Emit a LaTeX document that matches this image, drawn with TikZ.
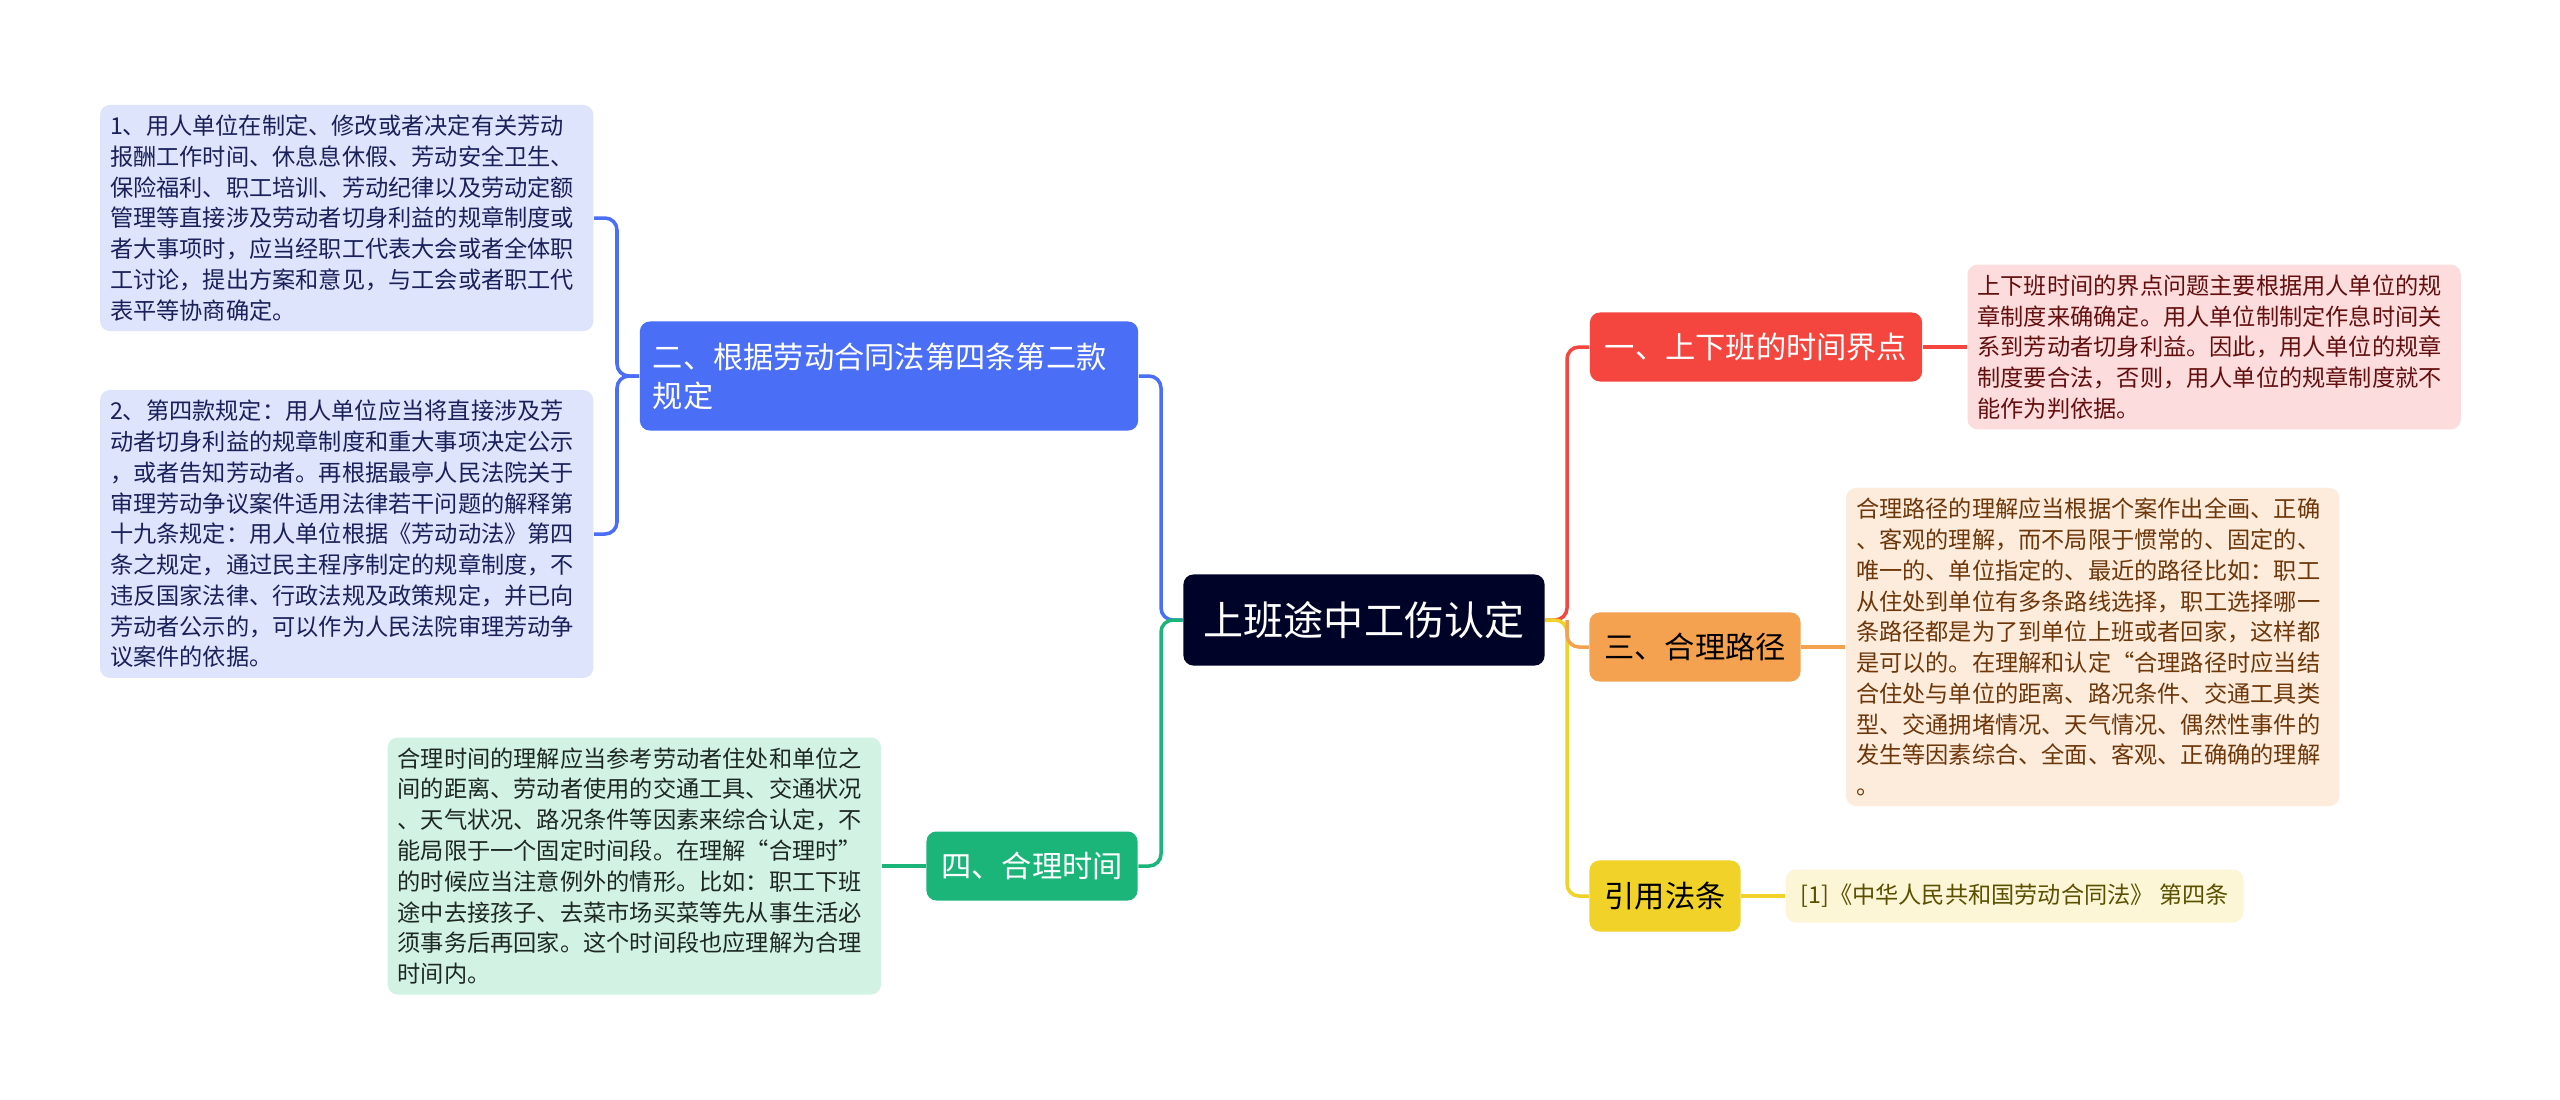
\documentclass[tikz,border=0pt]{standalone}
\usepackage{fontspec}
\setmainfont{Noto Sans CJK SC}
\usetikzlibrary{positioning}
\definecolor{rootbg}{RGB}{0,3,40}
\definecolor{bluebr}{RGB}{74,110,245}
\definecolor{blueleaf}{RGB}{222,228,252}
\definecolor{bluetxt}{RGB}{25,32,90}
\definecolor{redbr}{RGB}{244,70,62}
\definecolor{redleaf}{RGB}{252,220,220}
\definecolor{redtxt}{RGB}{100,15,15}
\definecolor{orangebr}{RGB}{245,162,80}
\definecolor{orangeleaf}{RGB}{253,236,220}
\definecolor{orangetxt}{RGB}{110,55,10}
\definecolor{yellowbr}{RGB}{240,210,40}
\definecolor{yellowleaf}{RGB}{252,246,215}
\definecolor{yellowtxt}{RGB}{90,80,0}
\definecolor{greenbr}{RGB}{27,181,122}
\definecolor{greenleaf}{RGB}{210,243,228}
\definecolor{greentxt}{RGB}{30,40,35}

\begin{document}
\begin{tikzpicture}[x=0.01cm,y=-0.01cm,node distance=0.44cm,
  every node/.style={font=\fontsize{6.6pt}{8.75pt}\selectfont,rounded corners=0.1cm,inner sep=0.1cm},
  topic/.style={font=\fontsize{8.6pt}{11.1pt}\selectfont,minimum height=0.69cm,inner sep=0.13cm},
  leaf/.style={text width=4.73cm,align=left},
  link/.style={line width=1pt,rounded corners=0.12cm}]
\fill[white] (0,0) rectangle (2560,1099);
\node[fill=rootbg,text=white,font=\fontsize{11.4pt}{14pt}\selectfont,minimum width=3.61cm,minimum height=0.91cm] (root) at (1364,620) {上班途中工伤认定};
\coordinate (lj) at (1161,620);\coordinate (rj) at (1567,620);
\node[topic,fill=redbr,text=white,minimum width=3.32cm] (b1) at (1756,347) {一、上下班的时间界点};
\node[topic,fill=bluebr,text=white,text width=4.72cm,align=left,minimum height=1.09cm] (b2) at (889,376) {二、根据劳动合同法第四条第二款\\规定};
\node[topic,fill=orangebr,text=black,minimum width=2.11cm] (b3) at (1695,647) {三、合理路径};
\node[topic,fill=greenbr,text=white,minimum width=2.11cm] (b4) at (1032,866) {四、合理时间};
\node[topic,fill=yellowbr,text=black,minimum width=1.51cm,minimum height=0.71cm] (b5) at (1665,896) {引用法条};
\node[leaf,fill=redleaf,text=redtxt,right=of b1] (l1) {上下班时间的界点问题主要根据用人单位的规\\章制度来确确定。用人单位制制定作息时间关\\系到芳动者切身利益。因此，用人单位的规章\\制度要合法，否则，用人单位的规章制度就不\\能作为判依据。};
\node[leaf,fill=blueleaf,text=bluetxt,anchor=east] (l2a) at (594,218) {1、用人单位在制定、修改或者决定有关芳动\\报酬工作时间、休息息休假、芳动安全卫生、\\保险福利、职工培训、芳动纪律以及劳动定额\\管理等直接涉及劳动者切身利益的规章制度或\\者大事项时，应当经职工代表大会或者全体职\\工讨论，提出方案和意见，与工会或者职工代\\表平等协商确定。};
\node[leaf,fill=blueleaf,text=bluetxt,anchor=east] (l2b) at (594,534) {2、第四款规定：用人单位应当将直接涉及芳\\动者切身利益的规章制度和重大事项决定公示\\，或者告知芳动者。再根据最亭人民法院关于\\审理芳动争议案件适用法律若干问题的解释第\\十九条规定：用人单位根据《芳动动法》第四\\条之规定，通过民主程序制定的规章制度，不\\违反国家法律、行政法规及政策规定，并已向\\芳动者公示的，可以作为人民法院审理芳动争\\议案件的依据。};
\node[leaf,fill=orangeleaf,text=orangetxt,right=of b3] (l3) {合理路径的理解应当根据个案作出全画、正确\\、客观的理解，而不局限于惯常的、固定的、\\唯一的、单位指定的、最近的路径比如：职工\\从住处到单位有多条路线选择，职工选择哪一\\条路径都是为了到单位上班或者回家，这样都\\是可以的。在理解和认定“合理路径时应当结\\合住处与单位的距离、路况条件、交通工具类\\型、交通拥堵情况、天气情况、偶然性事件的\\发生等因素综合、全面、客观、正确确的理解\\。};
\node[leaf,fill=greenleaf,text=greentxt,left=of b4] (l4) {合理时间的理解应当参考劳动者住处和单位之\\间的距离、劳动者使用的交通工具、交通状况\\、天气状况、路况条件等因素来综合认定，不\\能局限于一个固定时间段。在理解“合理时”\\的时候应当注意例外的情形。比如：职工下班\\途中去接孩子、去菜市场买菜等先从事生活必\\须事务后再回家。这个时间段也应理解为合理\\时间内。};
\node[fill=yellowleaf,text=yellowtxt,minimum width=4.57cm,minimum height=0.53cm,right=of b5] (l5) {[1]《中华人民共和国劳动合同法》 第四条};
\coordinate (bj) at (617,376);
\draw[link,bluebr] (root.west) -- (lj) |- (b2.east);\draw[link,greenbr] (root.west) -- (lj) |- (b4.east);
\draw[link,redbr] (root.east) -- (rj) |- (b1.west);\draw[link,yellowbr] (root.east) -- (rj) |- (b5.west);\draw[link,orangebr] (rj) |- (b3.west);
\draw[link,bluebr] (b2.west) -- (bj) |- (l2a.east);\draw[link,bluebr] (b2.west) -- (bj) |- (l2b.east);
\draw[link,redbr] (b1.east) -- (l1.west);\draw[link,orangebr] (b3.east) -- (l3.west);
\draw[link,greenbr] (b4.west) -- (l4.east);\draw[link,yellowbr] (b5.east) -- (l5.west);
\end{tikzpicture}
\end{document}
